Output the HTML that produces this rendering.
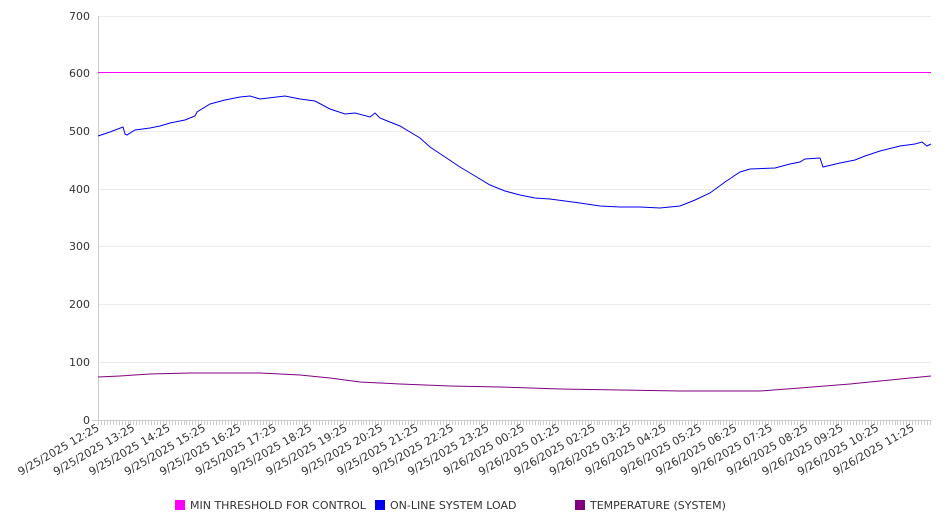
<!DOCTYPE html>
<html><head><meta charset="utf-8"><style>
html,body{margin:0;padding:0;background:#fff;}
svg{display:block;font-family:"DejaVu Sans","Liberation Sans",sans-serif;}
</style></head><body>
<svg width="946" height="526" viewBox="0 0 946 526">
<g stroke="#ebebeb" stroke-width="1">
<line x1="98" y1="16.5" x2="931" y2="16.5"/>
<line x1="98" y1="131.5" x2="931" y2="131.5"/>
<line x1="98" y1="189.5" x2="931" y2="189.5"/>
<line x1="98" y1="246.5" x2="931" y2="246.5"/>
<line x1="98" y1="304.5" x2="931" y2="304.5"/>
<line x1="98" y1="362.5" x2="931" y2="362.5"/>
</g>
<g stroke="#ccc"><line x1="98.5" y1="16" x2="98.5" y2="420"/><line x1="92" y1="420.5" x2="931" y2="420.5"/></g>
<g id="ticks" stroke="#ccc"></g>
<g font-size="11" fill="#333" text-anchor="end">
<text x="90" y="20">700</text><text x="90" y="77">600</text><text x="90" y="135">500</text>
<text x="90" y="193">400</text><text x="90" y="250">300</text><text x="90" y="308">200</text>
<text x="90" y="366">100</text><text x="90" y="424">0</text>
</g>
<g font-size="11" fill="#333" text-anchor="end">
<text transform="translate(100,430) rotate(-30)">9/25/2025 12:25</text>
<text transform="translate(135.4,430) rotate(-30)">9/25/2025 13:25</text>
<text transform="translate(170.9,430) rotate(-30)">9/25/2025 14:25</text>
<text transform="translate(206.3,430) rotate(-30)">9/25/2025 15:25</text>
<text transform="translate(241.7,430) rotate(-30)">9/25/2025 16:25</text>
<text transform="translate(277.2,430) rotate(-30)">9/25/2025 17:25</text>
<text transform="translate(312.6,430) rotate(-30)">9/25/2025 18:25</text>
<text transform="translate(348,430) rotate(-30)">9/25/2025 19:25</text>
<text transform="translate(383.4,430) rotate(-30)">9/25/2025 20:25</text>
<text transform="translate(418.9,430) rotate(-30)">9/25/2025 21:25</text>
<text transform="translate(454.3,430) rotate(-30)">9/25/2025 22:25</text>
<text transform="translate(489.7,430) rotate(-30)">9/25/2025 23:25</text>
<text transform="translate(525.2,430) rotate(-30)">9/26/2025 00:25</text>
<text transform="translate(560.6,430) rotate(-30)">9/26/2025 01:25</text>
<text transform="translate(596,430) rotate(-30)">9/26/2025 02:25</text>
<text transform="translate(631.5,430) rotate(-30)">9/26/2025 03:25</text>
<text transform="translate(666.9,430) rotate(-30)">9/26/2025 04:25</text>
<text transform="translate(702.3,430) rotate(-30)">9/26/2025 05:25</text>
<text transform="translate(737.7,430) rotate(-30)">9/26/2025 06:25</text>
<text transform="translate(773.2,430) rotate(-30)">9/26/2025 07:25</text>
<text transform="translate(808.6,430) rotate(-30)">9/26/2025 08:25</text>
<text transform="translate(844,430) rotate(-30)">9/26/2025 09:25</text>
<text transform="translate(879.5,430) rotate(-30)">9/26/2025 10:25</text>
<text transform="translate(914.9,430) rotate(-30)">9/26/2025 11:25</text>
</g>
<line x1="98" y1="72.5" x2="931" y2="72.5" stroke="#ff00ff" stroke-width="1"/>
<polyline fill="none" stroke="#0000ee" stroke-width="1" points="98,136 110,132 123,127 125,134 127,135 135,130 150,128 160,126 170,123 185,120 195,116 197,112 210,104 225,100 240,97 250,96 260,99 285,96 300,99 315,101 330,109 345,114 355,113 370,117 375,113 380,118 400,126 420,138 430,147 445,157 460,167 475,176 490,185 505,191 520,195 535,198 550,199 565,201 580,203 600,206 620,207 640,207 660,208 680,206 695,200 710,193 725,182 740,172 750,169 775,168 790,164 800,162 805,159 820,158 823,167 840,163 855,160 865,156 880,151 900,146 915,144 922,142 927,146 931,144"/>
<polyline fill="none" stroke="#800080" stroke-width="1" points="98,377 120,376 150,374 190,373 260,373 300,375 330,378 360,382 400,384 450,386 500,387 560,389 620,390 680,391 760,391 800,388 850,384 900,379 931,376"/>
<g font-size="11" fill="#333">
<rect x="175" y="500" width="10" height="10" fill="#ff00ff"/><text x="190" y="509">MIN THRESHOLD FOR CONTROL</text>
<rect x="375" y="500" width="10" height="10" fill="#0000ee"/><text x="390" y="509">ON-LINE SYSTEM LOAD</text>
<rect x="575" y="500" width="10" height="10" fill="#800080"/><text x="590" y="509">TEMPERATURE (SYSTEM)</text>
</g>
<script>
(function(){var g=document.getElementById('ticks'),d='';
for(var x=98;x<=931;x+=2.95){d+='M'+(Math.round(x)+0.5)+' 421v4';}
var p=document.createElementNS('http://www.w3.org/2000/svg','path');p.setAttribute('d',d);g.appendChild(p);})();
</script>
</svg>
</body></html>
